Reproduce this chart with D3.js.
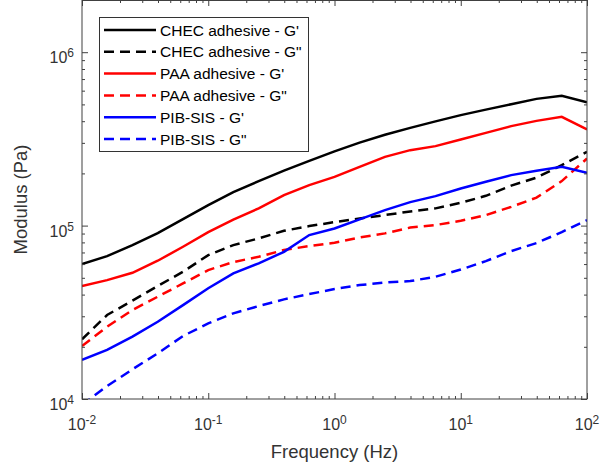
<!DOCTYPE html>
<html lang="en">
<head>
<meta charset="UTF-8">
<title>Modulus vs Frequency</title>
<script src="https://d3js.org/d3.v7.min.js"></script>
<style>
  body { margin: 0; background: white; font-family: "Liberation Sans", Arial, sans-serif; }
  .axis path, .axis line { stroke: #404040; }
</style>
</head>
<body>
<div id="chart"></div>
<script>
// frequencies (Hz), 5 points per decade
const freq = [0.01, 0.0158, 0.0251, 0.0398, 0.0631, 0.1, 0.158, 0.251, 0.398, 0.631,
              1, 1.58, 2.51, 3.98, 6.31, 10, 15.8, 25.1, 39.8, 63.1, 100];

const chec_Gp  = [60000, 66700, 77200, 90500, 109000, 131300, 156000, 180500, 207500, 236000,
                  268000, 301000, 334000, 366000, 399000, 433500, 466300, 501500, 538000, 560000, 515000];
const chec_Gpp = [22100, 30500, 36900, 44800, 54200, 67600, 77200, 84400, 93300, 99400,
                  104700, 110000, 115000, 120700, 125700, 135300, 148500, 170100, 189100, 223200, 266300];
const paa_Gp   = [44800, 48500, 53450, 62700, 75500, 91700, 108100, 125700, 149900, 171200,
                  191100, 218200, 249200, 272300, 287200, 314000, 342600, 374600, 401800, 423800, 358500];
const paa_Gpp  = [20200, 26100, 32600, 38900, 46400, 55400, 61600, 66100, 72300, 76200,
                  79600, 85500, 90200, 97400, 100700, 106600, 115000, 128300, 145000, 180500, 243900];
const pib_Gp   = [16800, 19200, 22900, 27900, 34800, 43500, 53000, 60600, 70600, 88200,
                  96300, 108600, 122900, 136600, 147900, 163800, 178900, 195500, 206900, 218200, 201500];
const pib_Gpp  = [9235, 11880, 14830, 18340, 23070, 27310, 31190, 34360, 37550, 40270,
                  43050, 45400, 46940, 47860, 50700, 55770, 62430, 71290, 79300, 91730, 107600];

const seriesNames = ["CHEC adhesive - G'", "CHEC adhesive - G\"", "PAA adhesive - G'",
                     "PAA adhesive - G\"", "PIB-SIS - G'", "PIB-SIS - G\""];
const seriesValues = [chec_Gp, chec_Gpp, paa_Gp, paa_Gpp, pib_Gp, pib_Gpp];
const seriesColors = ["black", "black", "red", "red", "blue", "blue"];
const seriesDashed = [false, true, false, true, false, true];

const xTicks = [1e-2, 1e-1, 1e0, 1e1, 1e2];
const xExp = ["-2", "-1", "0", "1", "2"];
const yTicks = [1e4, 1e5, 1e6];
const yExp = ["4", "5", "6"];

const width = 603, height = 470;
const margin = {top: 0, right: 16, bottom: 71, left: 82};
const iw = width - margin.left - margin.right;
const ih = height - margin.top - margin.bottom;

const svg = d3.select("#chart").append("svg")
  .attr("width", width).attr("height", height);

const g = svg.append("g").attr("transform", `translate(${margin.left},${margin.top})`);

const x = d3.scaleLog().domain([1e-2, 1e2]).range([0, iw]);
const y = d3.scaleLog().domain([1e4, 2e6]).range([ih, 0]);

// minor tick values
function minors(lo, hi) {
  const out = [];
  for (let e = lo; e < hi; e++) {
    for (let m = 2; m <= 9; m++) out.push(m * Math.pow(10, e));
  }
  return out;
}
const xMinor = minors(-2, 2);
const yMinor = minors(4, 6).filter(v => v <= 2e6);

g.append("clipPath").attr("id", "clip")
  .append("rect").attr("width", iw).attr("height", ih);

// lines
const line = d3.line()
  .x((d, i) => x(freq[i]))
  .y(d => y(d));

g.append("g").attr("clip-path", "url(#clip)")
  .selectAll("path")
  .data(seriesValues)
  .join("path")
  .attr("d", d => line(d))
  .attr("fill", "none")
  .attr("stroke", (d, i) => seriesColors[i])
  .attr("stroke-width", 2.5)
  .attr("stroke-dasharray", (d, i) => seriesDashed[i] ? "10,6" : null);

// axes, ticks inward on all four sides
function drawAxis(axisFn, scale, vals, size, transform) {
  const a = g.append("g").attr("class", "axis").attr("transform", transform)
    .call(axisFn(scale).tickValues(vals).tickSize(-size).tickFormat(""));
  a.select(".domain").remove();
  return a;
}
drawAxis(d3.axisBottom, x, xTicks, 6, `translate(0,${ih})`);
drawAxis(d3.axisBottom, x, xMinor, 3, `translate(0,${ih})`);
drawAxis(d3.axisTop, x, xTicks, 6, `translate(0,0)`);
drawAxis(d3.axisTop, x, xMinor, 3, `translate(0,0)`);
drawAxis(d3.axisLeft, y, yTicks, 6, `translate(0,0)`);
drawAxis(d3.axisLeft, y, yMinor, 3, `translate(0,0)`);
drawAxis(d3.axisRight, y, yTicks, 6, `translate(${iw},0)`);
drawAxis(d3.axisRight, y, yMinor, 3, `translate(${iw},0)`);

g.append("rect")
  .attr("x", 0).attr("y", 0.5).attr("width", iw).attr("height", ih - 0.5)
  .attr("fill", "none").attr("stroke", "#404040").attr("stroke-width", 1);

// tick labels with superscripts
const xl = g.append("g").selectAll("text")
  .data(xTicks)
  .join("text")
  .attr("x", d => x(d))
  .attr("y", ih + 31)
  .attr("text-anchor", "middle")
  .attr("fill", "#333")
  .attr("font-size", 16);
xl.append("tspan").text("10");
xl.append("tspan").attr("dy", -6).attr("font-size", 12).text((d, i) => xExp[i]);

const yl = g.append("g").selectAll("text")
  .data(yTicks)
  .join("text")
  .attr("x", -8)
  .attr("y", d => y(d) + 11)
  .attr("text-anchor", "end")
  .attr("fill", "#333")
  .attr("font-size", 16);
yl.append("tspan").text("10");
yl.append("tspan").attr("dy", -6).attr("font-size", 12).text((d, i) => yExp[i]);

// axis titles
svg.append("text")
  .attr("x", margin.left + iw / 2)
  .attr("y", 458)
  .attr("text-anchor", "middle")
  .attr("fill", "#333")
  .attr("font-size", 18.5)
  .text("Frequency (Hz)");

svg.append("text")
  .attr("transform", `translate(27,${margin.top + ih / 2}) rotate(-90)`)
  .attr("text-anchor", "middle")
  .attr("fill", "#333")
  .attr("font-size", 18.5)
  .text("Modulus (Pa)");

// legend
const legend = svg.append("g").attr("transform", "translate(99,17)");
legend.append("rect")
  .attr("x", 0.5).attr("y", 0.5).attr("width", 209).attr("height", 134)
  .attr("fill", "white").attr("stroke", "#333").attr("stroke-width", 1);

const rows = legend.selectAll(".row")
  .data(seriesNames)
  .join("g")
  .attr("class", "row")
  .attr("transform", (d, i) => `translate(0,${13 + i * 21.8})`);

rows.append("line")
  .attr("x1", 5).attr("x2", 57)
  .attr("stroke", (d, i) => seriesColors[i])
  .attr("stroke-width", 2.5)
  .attr("stroke-dasharray", (d, i) => seriesDashed[i] ? "10,6" : null);

rows.append("text")
  .attr("x", 61).attr("y", 5.5)
  .attr("font-size", 15.5)
  .attr("fill", "black")
  .text(d => d);
</script>
</body>
</html>
